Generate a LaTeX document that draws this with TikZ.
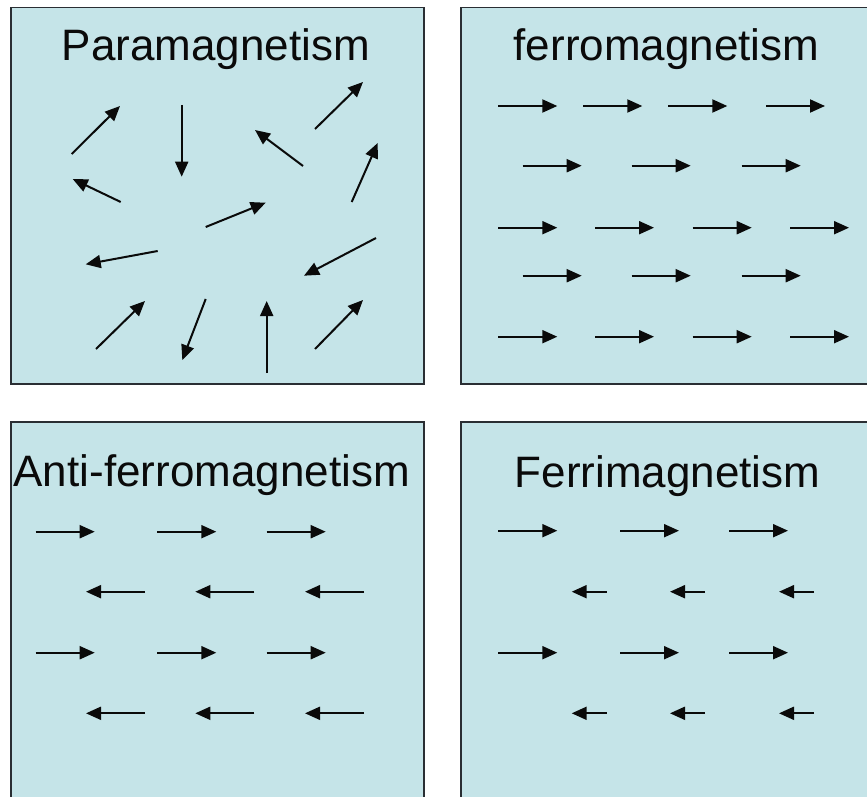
\documentclass[tikz,border=0pt]{standalone}
\usepackage{fontspec}
\setmainfont{Liberation Sans}
\usetikzlibrary{arrows.meta}
\definecolor{mgFundo}{HTML}{C5E4E8}
\definecolor{mgBorda}{HTML}{2A2E33}
\definecolor{mgSeta}{HTML}{0A0A0A}

\begin{document}
\begin{tikzpicture}[x=1pt, y=-1pt]
  \tikzset{
    painel/.style={fill=mgFundo, draw=mgBorda, line width=1.8pt},
    titulo/.style={anchor=base, inner sep=0pt, text=mgSeta,
                   font=\fontsize{44}{50}\selectfont},
    spin/.style={-{Triangle[length=15pt, width=13pt]}, line width=2pt, mgSeta}}
  \clip (0,0) rectangle (867,797);
  \draw[painel] (11,7.5) rectangle (424.3,384);
  \draw[painel] (461,7.5) rectangle (880,384);
  \draw[painel] (11,421.7) rectangle (424.3,810);
  \draw[painel] (461,421.7) rectangle (880,810);
  \node[titulo] (tPara) at (216,61) {Paramagnetism};
  \node[titulo] (tFerro) at (666.5,61) {ferromagnetism};
  \node[titulo] (tAnti) at (211.7,486.7) {Anti-ferromagnetism};
  \node[titulo] (tFerri) at (667.5,487) {Ferrimagnetism};
  % paramagnetismo
  \foreach \xa/\ya/\xb/\yb in {71.7/154/120/106, 181.7/105/181.7/176.7,
      303/166/255/130, 315/129/363/82, 120.7/202/72.7/179, 351.7/202/377.7/143,
      205.7/227/265.7/202.7, 157.7/251/85.7/264.3, 376/238/304/275.7,
      96/349/145/301, 205.7/299/182.3/360, 266.7/373/266.7/301, 315/349/363/300}
    \draw[spin] (\xa,\ya) -- (\xb,\yb);
  % ferromagnetismo
  \foreach \y/\xs in {106/{498.3,583.3,668.3,766}, 165.7/{522.7,631.7,741.7},
      227.7/{498.3,595,692.7,790}, 275.7/{522.7,631.7,741.7},
      336.7/{498.3,595,692.7,790}}
    \foreach \x in \xs \draw[spin] (\x,\y) -- ++(59,0);
  % anti-ferromagnetismo
  \foreach \y in {531.7,652.7}{
    \foreach \x in {35.7,157.3,266.7} \draw[spin] (\x,\y) -- ++(59,0);}
  \foreach \y in {591.7,713.3}{
    \foreach \x in {145,254.3,364} \draw[spin] (\x,\y) -- ++(-59,0);}
  % ferrimagnetismo
  \foreach \y in {530.7,652.7}{
    \foreach \x in {498.3,620,729} \draw[spin] (\x,\y) -- ++(59,0);}
  \foreach \y in {591.7,713.3}{
    \foreach \x in {606.7,705,814} \draw[spin] (\x,\y) -- ++(-35,0);}
\end{tikzpicture}
\end{document}
